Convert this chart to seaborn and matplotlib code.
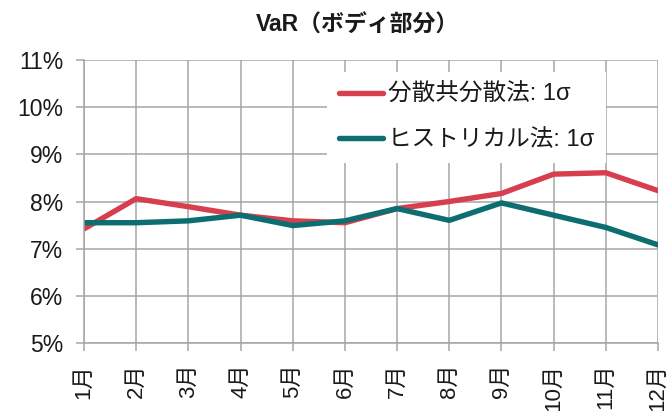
import pandas as pd
import matplotlib
matplotlib.use("Agg")
import matplotlib.pyplot as plt
import seaborn as sns

# ==========================
# Data
# ==========================
months = ["1月", "2月", "3月", "4月", "5月", "6月",
          "7月", "8月", "9月", "10月", "11月", "12月"]
var_cov = [7.42, 8.06, 7.89, 7.71, 7.59, 7.55,
           7.85, 8.00, 8.17, 8.58, 8.61, 8.23]
historical = [7.55, 7.55, 7.59, 7.71, 7.49, 7.59,
              7.85, 7.60, 7.97, 7.71, 7.45, 7.08]
label_var_cov = "分散共分散法: 1σ"
label_hist = "ヒストリカル法: 1σ"
y_ticks = [5, 6, 7, 8, 9, 10, 11]

df = pd.DataFrame({
    "month": months * 2,
    "value": var_cov + historical,
    "method": [label_var_cov] * 12 + [label_hist] * 12,
})

# ==========================
# Style
# ==========================
sns.set_theme(style="white")
plt.rcParams["font.family"] = ["Liberation Sans", "Noto Sans CJK JP", "DejaVu Sans"]

grid_color = "#A6A6A6"
text_color = "#1A1A1A"

fig = plt.figure(figsize=(6.71, 4.11), dpi=100)
ax = fig.add_axes([84 / 671, 1 - 343 / 411, (658 - 84) / 671, (343 - 60) / 411])

sns.lineplot(
    data=df,
    x="month",
    y="value",
    hue="method",
    palette=["#D83F4E", "#0D6E72"],
    linewidth=3.9,
    sort=False,
    ax=ax,
)

ax.set_xlim(0, 11)
ax.set_ylim(5, 11)
ax.set_xticks(range(len(months)))
ax.set_xticklabels(months, rotation=90, fontsize=16, color=text_color)
ax.set_yticks(y_ticks)
ax.set_yticklabels([f"{v}%" for v in y_ticks], fontsize=16.5, color=text_color)
ax.set_xlabel("")
ax.set_ylabel("")

ax.grid(True, color=grid_color, linewidth=1.1)
ax.set_axisbelow(True)
for side in ["top", "right"]:
    ax.spines[side].set_visible(False)
for side in ["left", "bottom"]:
    ax.spines[side].set_color(grid_color)
    ax.spines[side].set_linewidth(1.1)
ax.tick_params(axis="x", direction="out", length=6, width=1.1,
               color=grid_color, pad=9, bottom=True)
ax.tick_params(axis="y", direction="out", length=6, width=1.1,
               color=grid_color, pad=9, left=True)

leg = ax.legend(
    loc="upper right",
    bbox_to_anchor=(618 / 671, 1 - 60 / 411),
    bbox_transform=fig.transFigure,
    fontsize=17,
    frameon=True,
    framealpha=1,
    facecolor="white",
    edgecolor="none",
    fancybox=False,
    handlelength=1.9,
    handletextpad=0.2,
    labelspacing=1.0,
    borderpad=0.5,
)
for t in leg.get_texts():
    t.set_color(text_color)
for line in leg.get_lines():
    line.set_linewidth(3.9)

fig.text(357 / 671, 1 - 25 / 411, "VaR（ボディ部分）",
         ha="center", va="center", fontsize=16.5, fontweight="bold",
         color=text_color)

plt.savefig("out.png", dpi=100)
plt.close()
